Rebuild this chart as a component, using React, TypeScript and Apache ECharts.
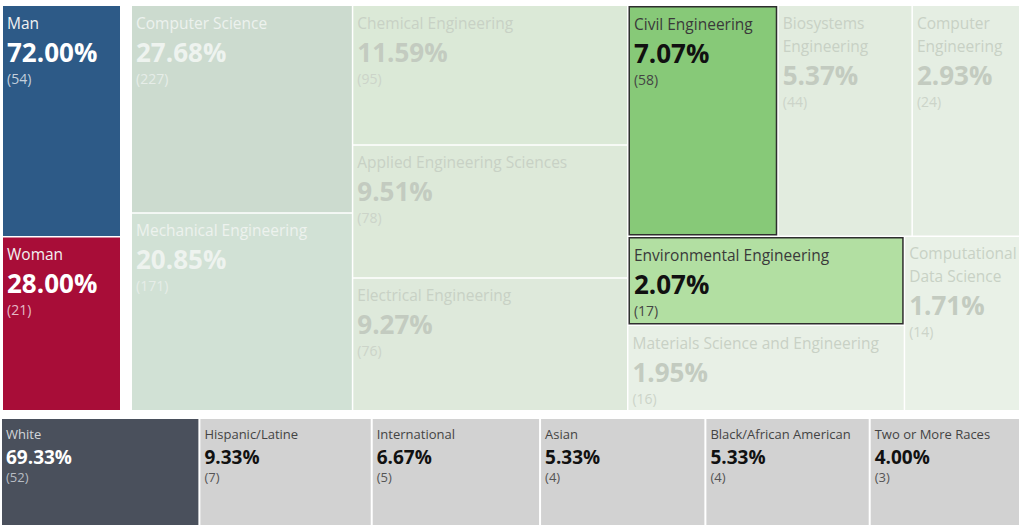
import React, { useEffect, useRef } from "react";
import * as echarts from "echarts";

// ---- Data ----
const genderNames = ["Man", "Woman"];
const genderCounts = [54, 21];
// Tableau sizes the tiles by a compressed measure; relative tile weights
const genderTileWeight = [27.0, 20.3];

const majorNames = [
  "Computer Science",
  "Mechanical Engineering",
  "Chemical Engineering",
  "Applied Engineering Sciences",
  "Electrical Engineering",
  "Civil Engineering",
  "Biosystems Engineering",
  "Computer Engineering",
  "Environmental Engineering",
  "Materials Science and Engineering",
  "Computational Data Science",
];
const majorCounts = [227, 171, 95, 78, 76, 58, 44, 24, 17, 16, 14];
const majorTileWeight = [45.7, 43.5, 38.2, 36.4, 36.3, 34.5, 30.8, 24.7, 24.5, 23.5, 20.0];
const highlightedMajors = ["Civil Engineering", "Environmental Engineering"];

const raceNames = [
  "White",
  "Hispanic/Latine",
  "International",
  "Asian",
  "Black/African American",
  "Two or More Races",
];
const raceCounts = [52, 7, 5, 4, 4, 3];
const raceTileWeight = [198, 172, 168, 165, 164, 150];

// ---- Styles ----
const FONT = "'Open Sans', 'Noto Sans', sans-serif";
const genderColors = ["#2d5a87", "#a80d38"];
const majorColors = [
  "#ccdbcf", "#d1e1d5", "#dbe9d7", "#dde9d9", "#dee9db",
  "#87c978", "#e2ecdf", "#e5eee3", "#b2dfa2", "#e8f0e6", "#e9f1e7",
];
const raceColors = ["#4a505c", "#d2d2d2", "#d2d2d2", "#d2d2d2", "#d2d2d2", "#d2d2d2"];

const BIG = { name: 15.5, pct: 26, cnt: 14, nameLH: 23, pctLH: 35, cntLH: 18 };
const SMALL = { name: 13, pct: 19, cnt: 13, nameLH: 22, pctLH: 24, cntLH: 16 };

function makeRich(big: boolean, nameC: string, pctC: string, cntC: string) {
  const s = big ? BIG : SMALL;
  return {
    n: { fontFamily: FONT, fontSize: s.name, color: nameC, lineHeight: s.nameLH },
    p: { fontFamily: FONT, fontSize: s.pct, fontWeight: "bold", color: pctC, lineHeight: s.pctLH },
    c: { fontFamily: FONT, fontSize: s.cnt, color: cntC, lineHeight: s.cntLH },
  };
}

function pctText(count: number, counts: number[]) {
  const total = counts.reduce((a, b) => a + b, 0);
  return ((count / total) * 100).toFixed(2) + "%";
}

// wrapped name lines, filled after the first layout pass
const wrapMap: Record<string, string[]> = {};

let measureCtx: CanvasRenderingContext2D | null = null;
function textWidth(t: string, size: number) {
  if (!measureCtx) measureCtx = document.createElement("canvas").getContext("2d");
  if (!measureCtx) return t.length * size * 0.5;
  measureCtx.font = `${size}px ${FONT}`;
  return measureCtx.measureText(t).width;
}
function wrapWords(text: string, size: number, maxW: number) {
  const words = text.split(" ");
  const lines: string[] = [];
  let cur = "";
  for (const w of words) {
    const t = cur ? cur + " " + w : w;
    if (cur && textWidth(t, size) > maxW) {
      lines.push(cur);
      cur = w;
    } else cur = t;
  }
  lines.push(cur);
  return lines;
}

function baseSeries(big: boolean, counts: number[]) {
  return {
    type: "treemap",
    roam: false,
    nodeClick: false,
    silent: true,
    breadcrumb: { show: false },
    squareRatio: 1.645,
    visibleMin: 0,
    animation: false,
    levels: [{ itemStyle: { borderWidth: 0, gapWidth: 1.5 } }],
    upperLabel: { show: false },
    label: {
      show: true,
      position: "insideTopLeft",
      padding: [big ? 5 : 4, 4, 0, 4],
      overflow: "none",
      formatter: (p: any) => {
        const c = p.value[1];
        const lines = wrapMap[p.name] || [p.name];
        const nameStr = lines.map((l) => `{n|${l}}`).join("\n");
        return `${nameStr}\n{p|${pctText(c, counts)}}\n{c|(${c})}`;
      },
    },
  };
}

function buildOption() {
  const genderData = genderNames.map((name, i) => ({
    name,
    value: [genderTileWeight[i], genderCounts[i]],
    itemStyle: { color: genderColors[i], borderWidth: 0 },
    label: { rich: makeRich(true, "#f2f2f2", "#ffffff", "rgba(255,255,255,0.72)") },
  }));

  const majorData = majorNames.map((name, i) => {
    const hl = highlightedMajors.includes(name);
    const whiteText = i < 2;
    return {
      name,
      value: [majorTileWeight[i], majorCounts[i]],
      itemStyle: hl
        ? { color: majorColors[i], borderColor: "#2e2e2e", borderWidth: 1.5 }
        : { color: majorColors[i], borderWidth: 0 },
      label: {
        rich: hl
          ? makeRich(true, "#3a3a3a", "#111111", "#444444")
          : whiteText
          ? makeRich(true, "#edf2ee", "#eef3ef", "#e6ede8")
          : makeRich(true, "#c8d1c5", "#c3cbc0", "#ccd4c9"),
      },
    };
  });

  const raceData = raceNames.map((name, i) => ({
    name,
    value: [raceTileWeight[i], raceCounts[i]],
    itemStyle: { color: raceColors[i], borderWidth: 0 },
    label: {
      rich:
        i === 0
          ? makeRich(false, "#d3d6da", "#ffffff", "#b8bcc3")
          : makeRich(false, "#444444", "#111111", "#555555"),
    },
  }));

  return {
    animation: false,
    backgroundColor: "#ffffff",
    series: [
      { ...baseSeries(true, genderCounts), left: 3, top: 6, width: 117, height: 404, data: genderData },
      { ...baseSeries(true, majorCounts), left: 132, top: 6, width: 887, height: 404, data: majorData },
      {
        ...baseSeries(false, raceCounts),
        left: 2,
        top: 419,
        width: 1017,
        height: 112,
        levels: [{ itemStyle: { borderWidth: 0, gapWidth: 2 } }],
        data: raceData,
      },
    ],
  };
}

export default function App() {
  const ref = useRef<HTMLDivElement>(null);
  useEffect(() => {
    if (!ref.current) return;
    const chart = echarts.init(ref.current, undefined, { renderer: "svg" });
    chart.setOption(buildOption());

    // second pass: wrap names by word to the laid-out tile widths
    try {
      const model = (chart as any).getModel();
      [0, 1, 2].forEach((si) => {
        const s = model.getSeriesByIndex(si);
        const size = si === 2 ? SMALL.name : BIG.name;
        const root = s.getData().tree.root;
        root.children.forEach((node: any) => {
          const lay = node.getLayout();
          if (!lay) return;
          const bw = (node.getModel().get(["itemStyle", "borderWidth"]) || 0) as number;
          wrapMap[node.name] = wrapWords(node.name, size, lay.width - 8 - 2 * bw);
        });
      });
      chart.setOption(buildOption(), true);
    } catch (e) {
      // keep first pass
    }
    return () => chart.dispose();
  }, []);
  return (
    <div
      ref={ref}
      style={{ position: "fixed", left: 0, top: 0, width: 1019, height: 525, background: "#fff" }}
    />
  );
}
